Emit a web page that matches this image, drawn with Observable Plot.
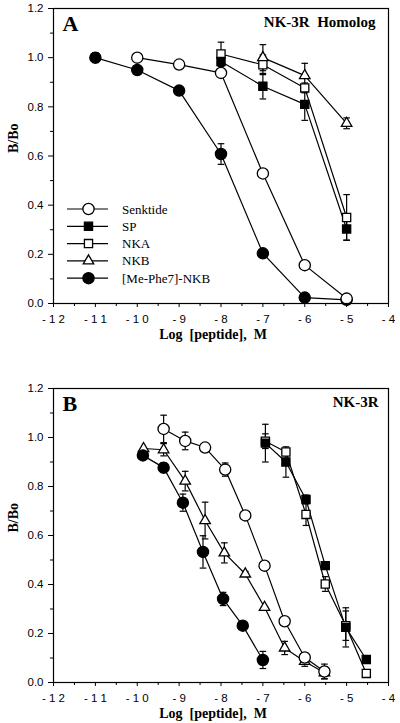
<!DOCTYPE html>
<html><head><meta charset="utf-8">
<script src="https://cdn.jsdelivr.net/npm/d3@7"></script>
<script src="https://cdn.jsdelivr.net/npm/@observablehq/plot@0.6"></script>
<style>
body{margin:0;background:#fff;}
#chart{width:400px;}
#chart svg{display:block;}
</style></head><body><div id="chart"></div>
<script>
// ---- series & tick data ----
const seriesNames = ["Senktide","SP","NKA","NKB","[Me-Phe7]-NKB"];
const xTickValues = [-12,-11,-10,-9,-8,-7,-6,-5,-4];
const xMinorTicks = [-11.5,-10.5,-9.5,-8.5,-7.5,-6.5,-5.5,-4.5];
const yTickValues = [0,0.2,0.4,0.6,0.8,1.0,1.2];
const yMinorTicks = [0.1,0.3,0.5,0.7,0.9,1.1];
const xLabel = "Log  [peptide],  M";
const yLabel = "B/Bo";

// Panel A: NK-3R Homolog
const aSenktideX=[-10,-9,-8,-7,-6,-5];
const aSenktideY=[1.0,0.972,0.938,0.529,0.156,0.02];
const aSenktideE=[0,0,0,0,0,0];
const aSPX=[-8,-7,-6,-5];
const aSPY=[0.984,0.884,0.81,0.303];
const aSPE=[0.02,0.052,0.065,0.045];
const aNKAX=[-8,-7,-6,-5];
const aNKAY=[1.015,0.971,0.877,0.35];
const aNKAE=[0.048,0.04,0.02,0.093];
const aNKBX=[-7,-6,-5];
const aNKBY=[1.0,0.927,0.733];
const aNKBE=[0.053,0.05,0.022];
const aMeX=[-11,-10,-9,-8,-7,-6,-5];
const aMeY=[1.0,0.95,0.866,0.608,0.204,0.024,0.015];
const aMeE=[0.02,0,0,0.042,0,0,0];

// Panel B: NK-3R
const bSenktideX=[-9.37,-8.855,-8.38,-7.9,-7.42,-6.96,-6.48,-6.0,-5.53];
const bSenktideY=[1.035,0.986,0.959,0.869,0.682,0.477,0.25,0.102,0.045];
const bSenktideE=[0.056,0.036,0,0.027,0,0,0,0.02,0.03];
const bSPX=[-6.94,-6.45,-5.97,-5.51,-5.02,-4.53];
const bSPY=[0.977,0.90,0.747,0.477,0.225,0.094];
const bSPE=[0.077,0.062,0.018,0,0.08,0];
const bNKAX=[-6.94,-6.45,-5.97,-5.51,-5.02,-4.53];
const bNKAY=[0.985,0.941,0.686,0.402,0.232,0.037];
const bNKAE=[0.03,0,0.045,0.03,0.06,0];
const bNKBX=[-9.85,-9.37,-8.855,-8.38,-7.92,-7.42,-6.96,-6.48,-6.0,-5.53];
const bNKBY=[0.955,0.95,0.822,0.661,0.529,0.443,0.307,0.141,0.086,0.04];
const bNKBE=[0,0.025,0.04,0.075,0.041,0.01,0,0.027,0.02,0.025];
const bMeX=[-9.865,-9.37,-8.91,-8.43,-7.95,-7.48,-7.0];
const bMeY=[0.927,0.877,0.734,0.533,0.341,0.232,0.092];
const bMeE=[0,0.02,0.035,0.066,0.027,0,0.035];

// ---- styling ----
const seriesSymbol = ["circle","square","square","triangle","circle"];
const seriesFill = ["white","black","white","white","black"];
const seriesR = [5.6,4.6,4.6,3.9,5.6];
const serif = "'Liberation Serif','Times New Roman',serif";
const sans = "'Liberation Sans',Arial,Helvetica,sans-serif";
const cap = {draw(ctx){ ctx.moveTo(-3.3,0); ctx.lineTo(3.3,0); }};

function rowsOf(list){
  const out=[];
  list.forEach(([xs,ys,es],s)=>xs.forEach((x,i)=>out.push({s,x,y:ys[i],e:es[i]})));
  return out;
}
const rowsA = rowsOf([[aSenktideX,aSenktideY,aSenktideE],[aSPX,aSPY,aSPE],[aNKAX,aNKAY,aNKAE],[aNKBX,aNKBY,aNKBE],[aMeX,aMeY,aMeE]]);
const rowsB = rowsOf([[bSenktideX,bSenktideY,bSenktideE],[bSPX,bSPY,bSPE],[bNKAX,bNKAY,bNKAE],[bNKBX,bNKBY,bNKBE],[bMeX,bMeY,bMeE]]);

const fmtX = d => d < 0 ? "- " + String(-d).split("").join(" ") : String(d);

function panel(rows, o){
  const marks = [];
  for (const s of [4,0,1,2,3]) marks.push(Plot.line(rows.filter(d=>d.s===s), {x:"x", y:"y", stroke:"black", strokeWidth:1.2}));
  const eb = rows.filter(d=>d.e>0);
  marks.push(Plot.ruleX(eb, {x:"x", y1:d=>d.y-d.e, y2:d=>d.y+d.e, stroke:"black", strokeWidth:1.2}));
  marks.push(Plot.dot(eb, {x:"x", y:d=>d.y+d.e, symbol:cap, fill:"none", stroke:"black", strokeWidth:1.2}));
  marks.push(Plot.dot(eb, {x:"x", y:d=>d.y-d.e, symbol:cap, fill:"none", stroke:"black", strokeWidth:1.2}));
  for (const s of [3,2,1,4,0]) marks.push(Plot.dot(rows.filter(d=>d.s===s), {x:"x", y:"y", symbol:seriesSymbol[s], r:seriesR[s], fill:seriesFill[s], stroke:"black", strokeWidth:1.3}));
  marks.push(Plot.frame({stroke:"black", strokeWidth:1.2}));
  marks.push(Plot.axisX({ticks:xTickValues, tickSize:4, tickPadding:7, tickFormat:fmtX, label:null, fontSize:11.5, fontFamily:sans}));
  marks.push(Plot.axisX({ticks:xMinorTicks, tickSize:3, tickFormat:()=>"", label:null}));
  marks.push(Plot.axisY({ticks:yTickValues, tickSize:5, tickPadding:5, tickFormat:d3.format(".1f"), label:null, fontSize:11.5, fontFamily:sans}));
  marks.push(Plot.axisY({ticks:yMinorTicks, tickSize:3, tickFormat:()=>"", label:null}));
  marks.push(Plot.text([xLabel], {frameAnchor:"bottom", lineAnchor:"top", dy:26, dx:-8, fontSize:14, fontWeight:"bold", fontFamily:serif}));
  marks.push(Plot.text([yLabel], {frameAnchor:"left", rotate:-90, dx:-40, dy:-3, fontSize:14, fontWeight:"bold", fontFamily:serif}));
  marks.push(Plot.text([o.letter], {frameAnchor:"top-left", textAnchor:"start", lineAnchor:"top", dx:9, dy:7, fontSize:22, fontWeight:"bold", fontFamily:serif}));
  marks.push(Plot.text([o.title], {frameAnchor:"top-right", textAnchor:"end", lineAnchor:"top", dx:o.titleDx, dy:7.5, fontSize:15, fontWeight:"bold", fontFamily:serif}));
  return Plot.plot({
    width:400, height:o.height,
    marginLeft:53, marginRight:12, marginTop:o.marginTop, marginBottom:o.marginBottom,
    x:{domain:[-12,-4]}, y:{domain:[0,1.2]},
    style:{fontFamily:sans, fontSize:"11px", color:"black", background:"white"},
    marks
  });
}

const chart = document.getElementById("chart");
const svgA = panel(rowsA, {height:345, marginTop:8, marginBottom:42, letter:"A", title:"NK-3R\u00a0 Homolog", titleDx:-13});
const svgB = panel(rowsB, {height:378, marginTop:43, marginBottom:41, letter:"B", title:"NK-3R", titleDx:-10});
chart.appendChild(svgA);
chart.appendChild(svgB);

// legend (panel A)
const lg = d3.select(svgA).append("g").attr("class","legend");
const symMap = {circle:d3.symbolCircle, square:d3.symbolSquare, triangle:d3.symbolTriangle};
seriesNames.forEach((name,i)=>{
  const y = 209 + i*17.3;
  const g = lg.append("g").attr("transform",`translate(0,${y})`);
  g.append("line").attr("x1",67).attr("x2",108).attr("y1",0).attr("y2",0).attr("stroke","black").attr("stroke-width",1.2);
  g.append("path").attr("transform","translate(88.5,0)")
    .attr("d", d3.symbol(symMap[seriesSymbol[i]], Math.PI*seriesR[i]*seriesR[i])())
    .attr("fill", seriesFill[i]).attr("stroke","black").attr("stroke-width",1.3);
  g.append("text").attr("x",122).attr("y",0).attr("dy","0.35em")
    .attr("text-anchor","start")
    .attr("font-family",serif).attr("font-size",13).attr("fill","black").text(name);
});
</script></body></html>
